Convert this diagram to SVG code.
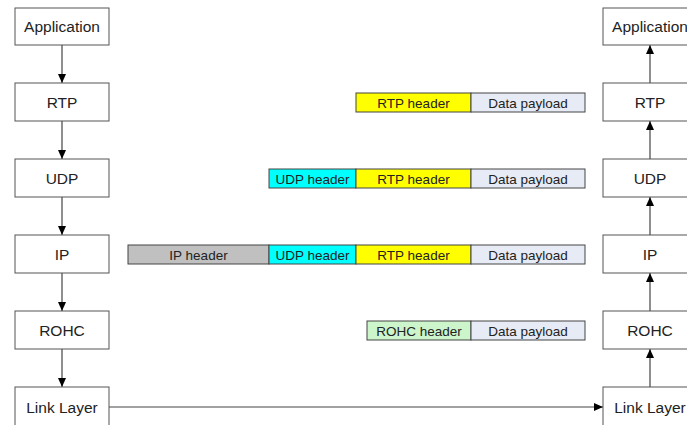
<svg xmlns="http://www.w3.org/2000/svg" width="687" height="425" viewBox="0 0 687 425">
<defs>
<marker id="ah" markerWidth="10" markerHeight="10" refX="9" refY="4" orient="auto" markerUnits="userSpaceOnUse">
<path d="M0,0 L9,4 L0,8 z" fill="#000"/>
</marker>
<style>
.box{fill:#fff;stroke:#555;stroke-width:1}
.lbl{font-family:"Liberation Sans",Arial,sans-serif;font-size:15.5px;fill:#222;text-anchor:middle}
.pk{stroke:#444;stroke-width:1}
.pl{font-family:"Liberation Sans",Arial,sans-serif;font-size:13.5px;fill:#222;text-anchor:middle}
.conn{stroke:#444;stroke-width:1.2;fill:none;marker-end:url(#ah)}
</style>
</defs>
<rect width="687" height="425" fill="#fff"/>
<g id="connectors">
<line class="conn" x1="62" y1="45" x2="62" y2="83"/>
<line class="conn" x1="62" y1="121" x2="62" y2="159"/>
<line class="conn" x1="62" y1="197" x2="62" y2="235"/>
<line class="conn" x1="62" y1="273" x2="62" y2="311"/>
<line class="conn" x1="62" y1="349" x2="62" y2="387"/>
<line class="conn" x1="109" y1="407" x2="603" y2="407"/>
<line class="conn" x1="650" y1="387" x2="650" y2="349"/>
<line class="conn" x1="650" y1="311" x2="650" y2="273"/>
<line class="conn" x1="650" y1="235" x2="650" y2="197"/>
<line class="conn" x1="650" y1="159" x2="650" y2="121"/>
<line class="conn" x1="650" y1="83" x2="650" y2="45"/>
</g>
<g id="l-app"><rect class="box" x="15" y="8" width="94" height="37"/><text class="lbl" x="62" y="32">Application</text></g>
<g id="l-rtp"><rect class="box" x="15" y="83" width="94" height="38"/><text class="lbl" x="62" y="108">RTP</text></g>
<g id="l-udp"><rect class="box" x="15" y="159" width="94" height="38"/><text class="lbl" x="62" y="184">UDP</text></g>
<g id="l-ip"><rect class="box" x="15" y="235" width="94" height="38"/><text class="lbl" x="62" y="260">IP</text></g>
<g id="l-rohc"><rect class="box" x="15" y="311" width="94" height="38"/><text class="lbl" x="62" y="336">ROHC</text></g>
<g id="l-link"><rect class="box" x="15" y="387" width="94" height="40"/><text class="lbl" x="62" y="413">Link Layer</text></g>
<g id="r-app"><rect class="box" x="603" y="8" width="94" height="37"/><text class="lbl" x="650" y="32">Application</text></g>
<g id="r-rtp"><rect class="box" x="603" y="83" width="94" height="38"/><text class="lbl" x="650" y="108">RTP</text></g>
<g id="r-udp"><rect class="box" x="603" y="159" width="94" height="38"/><text class="lbl" x="650" y="184">UDP</text></g>
<g id="r-ip"><rect class="box" x="603" y="235" width="94" height="38"/><text class="lbl" x="650" y="260">IP</text></g>
<g id="r-rohc"><rect class="box" x="603" y="311" width="94" height="38"/><text class="lbl" x="650" y="336">ROHC</text></g>
<g id="r-link"><rect class="box" x="603" y="387" width="94" height="40"/><text class="lbl" x="650" y="413">Link Layer</text></g>
<g id="pkt-rtp">
<rect class="pk" x="356" y="93" width="115" height="19" fill="#ffff00"/><text class="pl" x="413.5" y="107.5">RTP header</text>
<rect class="pk" x="471" y="93" width="114" height="19" fill="#e6ebf5"/><text class="pl" x="528" y="107.5">Data payload</text>
</g>
<g id="pkt-udp">
<rect class="pk" x="269" y="169" width="87" height="19" fill="#00ffff"/><text class="pl" x="312.5" y="183.5">UDP header</text>
<rect class="pk" x="356" y="169" width="115" height="19" fill="#ffff00"/><text class="pl" x="413.5" y="183.5">RTP header</text>
<rect class="pk" x="471" y="169" width="114" height="19" fill="#e6ebf5"/><text class="pl" x="528" y="183.5">Data payload</text>
</g>
<g id="pkt-ip">
<rect class="pk" x="128" y="245" width="141" height="19" fill="#c0c0c0"/><text class="pl" x="198.5" y="259.5">IP header</text>
<rect class="pk" x="269" y="245" width="87" height="19" fill="#00ffff"/><text class="pl" x="312.5" y="259.5">UDP header</text>
<rect class="pk" x="356" y="245" width="115" height="19" fill="#ffff00"/><text class="pl" x="413.5" y="259.5">RTP header</text>
<rect class="pk" x="471" y="245" width="114" height="19" fill="#e6ebf5"/><text class="pl" x="528" y="259.5">Data payload</text>
</g>
<g id="pkt-rohc">
<rect class="pk" x="367" y="321" width="104" height="19" fill="#ccf5cc"/><text class="pl" x="419" y="335.5">ROHC header</text>
<rect class="pk" x="471" y="321" width="114" height="19" fill="#e6ebf5"/><text class="pl" x="528" y="335.5">Data payload</text>
</g>
</svg>
